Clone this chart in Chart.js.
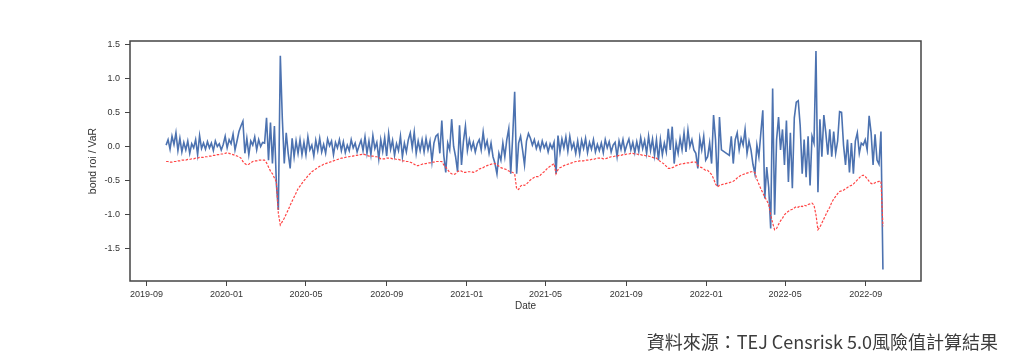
<!DOCTYPE html>
<html>
<head>
<meta charset="utf-8">
<script src="https://cdn.jsdelivr.net/npm/chart.js@4.4.1/dist/chart.umd.min.js"></script>
<style>
  html, body { margin: 0; padding: 0; background: #fff; }
  #wrap { position: relative; width: 1024px; height: 363px; }
  #source {
    position: absolute; right: 26px; top: 328px;
    font-family: "Noto Sans CJK TC", sans-serif; font-size: 18px;
    color: #3c3c3c; white-space: nowrap; line-height: 26px;
  }
</style>
</head>
<body>
<div id="wrap">
  <canvas id="chart" width="1024" height="363"></canvas>
  <div id="source">資料來源：TEJ Censrisk 5.0風險值計算結果</div>
</div>
<script>
// sampling grid of the series (every 3 calendar days from the first date)
const startDate = '2019-10-01';
const stepDays = 3;

const monthTicks = ['2019-09', '2020-01', '2020-05', '2020-09', '2021-01',
                    '2021-05', '2021-09', '2022-01', '2022-05', '2022-09'];
const yTicks = [-1.5, -1.0, -0.5, 0.0, 0.5, 1.0, 1.5];

// bond roi, one row ~ one month (null = holiday gap)
const bondRoi = [
  0.02, 0.10, -0.04, 0.15, 0.03, 0.20, -0.06, 0.12, -0.08, 0.06,
  -0.05, 0.08, -0.10, 0.04, -0.02, 0.10, -0.12, 0.16, -0.03, 0.05,
  -0.04, 0.07, -0.02, 0.05, -0.06, 0.08, 0.00, 0.04, -0.05, 0.03,
  0.15, -0.02, 0.10, 0.04, 0.18, -0.05, 0.08, 0.22, 0.30, 0.37,
  -0.10, 0.12, -0.12, 0.08, 0.02, 0.14, -0.05, 0.10, 0.00, 0.06,
  0.05, 0.42, -0.20, 0.35, -0.25, 0.30, -0.55, -0.93, 1.33, 0.42,
  -0.25, 0.20, -0.10, -0.32, 0.12, -0.15, 0.08, -0.10, 0.10, -0.12,
  0.06, -0.12, 0.14, -0.05, 0.02, -0.14, 0.09, -0.06, 0.12, -0.08,
  0.03, -0.10, 0.11, 0.01, 0.08, -0.12, 0.06, -0.02, 0.10, -0.06,
  0.07, -0.09, 0.02, -0.06, 0.10, -0.02, 0.05, -0.08, 0.01, 0.09,
  -0.06, 0.14, -0.10, 0.08, -0.12, 0.16, -0.03, 0.06, -0.18, 0.10,
  -0.07, 0.13, -0.14, 0.19, -0.04, 0.09, -0.13, 0.04, -0.06, 0.15,
  -0.15, 0.05, -0.08, 0.10, 0.20, -0.02, 0.21, -0.10, 0.08, -0.06,
  0.10, -0.08, 0.12, -0.05, 0.08, -0.22, 0.05, 0.15, 0.18, -0.10,
  0.38, -0.13, -0.38, 0.05, -0.05, 0.40, 0.00, -0.15, -0.37, 0.31,
  -0.27, 0.08, 0.30, -0.06, 0.10, -0.04, 0.06, -0.08, 0.04, 0.10,
  -0.05, 0.21, -0.02, 0.08, -0.10, 0.05, -0.15, -0.25, -0.40, -0.10,
  -0.20, 0.05, -0.15, 0.10, 0.26, -0.40, 0.15, 0.80, -0.40, 0.05,
  0.15, -0.05, -0.27, 0.08, 0.19, 0.12, 0.02, 0.10, -0.03, 0.06,
  -0.05, 0.08, -0.02, 0.05, -0.08, 0.04, -0.03, 0.06, -0.40, 0.16,
  -0.08, 0.11, -0.02, 0.14, -0.07, 0.15, -0.03, 0.05, -0.10, 0.08,
  -0.11, 0.09, -0.03, 0.12, -0.09, 0.06, -0.04, 0.10, -0.08, 0.03,
  -0.06, 0.05, -0.09, 0.10, -0.02, 0.07, -0.08, 0.02, 0.06, -0.15,
  0.08, -0.04, 0.10, -0.07, 0.03, 0.11, -0.05, 0.06, -0.09, 0.07,
  -0.07, 0.13, -0.03, 0.09, -0.10, 0.15, -0.06, 0.11, -0.13, 0.10,
  -0.20, 0.10, -0.12, 0.05, -0.08, 0.26, -0.05, 0.29, -0.25, 0.05,
  -0.10, 0.12, -0.05, 0.20, -0.08, 0.24, 0.00, 0.10, -0.05, -0.10,
  -0.32, 0.12, -0.05, 0.15, -0.20, -0.15, 0.05, -0.25, 0.46, 0.10,
  -0.58, 0.43, -0.05, null, null, null, -0.13, 0.15, -0.25, 0.10,
  0.20, -0.05, 0.12, 0.02, 0.25, -0.10, 0.08, -0.05, -0.26, -0.40,
  0.02, -0.15, 0.20, 0.53, -0.76, -0.30, -0.60, -1.20, 0.85, -1.00,
  0.10, 0.43, -0.05, 0.25, -0.27, 0.38, -0.52, 0.20, -0.61, 0.42,
  0.65, 0.67, 0.30, -0.40, 0.10, -0.45, 0.15, -0.57, 0.15, 0.05,
  1.40, -0.67, 0.40, -0.15, 0.46, 0.20, -0.12, 0.25, -0.15, 0.22,
  -0.10, 0.08, 0.51, 0.50, 0.02, -0.27, 0.10, -0.38, 0.05, -0.40,
  0.08, 0.20, -0.10, 0.05, 0.02, 0.10, -0.05, 0.45, 0.20, -0.27,
  0.18, -0.20, -0.26, 0.22, -1.80
];

// VaR
const varLine = [
  -0.22, -0.22, -0.23, -0.23, -0.22, -0.22, -0.21, -0.21, -0.20, -0.20,
  -0.20, -0.19, -0.19, -0.18, -0.18, -0.17, -0.17, -0.16, -0.16, -0.16,
  -0.15, -0.15, -0.14, -0.14, -0.13, -0.13, -0.12, -0.12, -0.11, -0.11,
  -0.10, -0.09, -0.10, -0.11, -0.12, -0.13, -0.14, -0.15, -0.17, -0.22,
  -0.25, -0.27, -0.26, -0.24, -0.22, -0.21, -0.21, -0.20, -0.20, -0.20,
  -0.20, -0.24, -0.30, -0.36, -0.40, -0.46, -0.52, -0.98, -1.15, -1.10,
  -1.05, -0.99, -0.93, -0.86, -0.80, -0.74, -0.68, -0.62, -0.58, -0.54,
  -0.50, -0.47, -0.43, -0.40, -0.37, -0.35, -0.33, -0.31, -0.29, -0.28,
  -0.26, -0.25, -0.24, -0.23, -0.22, -0.21, -0.20, -0.19, -0.18, -0.17,
  -0.17, -0.16, -0.15, -0.15, -0.14, -0.14, -0.13, -0.13, -0.12, -0.12,
  -0.11, -0.12, -0.13, -0.14, -0.14, -0.14, -0.15, -0.15, -0.16, -0.18,
  -0.18, -0.18, -0.17, -0.17, -0.17, -0.18, -0.18, -0.19, -0.19, -0.20,
  -0.21, -0.21, -0.22, -0.22, -0.23, -0.24, -0.26, -0.28, -0.28, -0.27,
  -0.26, -0.25, -0.25, -0.24, -0.24, -0.23, -0.23, -0.22, -0.22, -0.22,
  -0.22, -0.27, -0.30, -0.34, -0.38, -0.40, -0.41, -0.40, -0.37, -0.35,
  -0.36, -0.38, -0.38, -0.37, -0.37, -0.37, -0.38, -0.37, -0.35, -0.33,
  -0.32, -0.31, -0.29, -0.28, -0.27, -0.26, -0.25, -0.25, -0.27, -0.29,
  -0.31, -0.32, -0.33, -0.34, -0.36, -0.37, -0.38, -0.40, -0.62, -0.63,
  -0.58, -0.56, -0.57, -0.55, -0.52, -0.49, -0.47, -0.45, -0.44, -0.44,
  -0.42, -0.39, -0.37, -0.34, -0.31, -0.29, -0.27, -0.25, -0.40, -0.34,
  -0.31, -0.30, -0.28, -0.27, -0.26, -0.25, -0.24, -0.23, -0.22, -0.22,
  -0.21, -0.21, -0.21, -0.20, -0.20, -0.20, -0.19, -0.19, -0.18, -0.17,
  -0.17, -0.17, -0.18, -0.18, -0.17, -0.16, -0.15, -0.15, -0.14, -0.14,
  -0.13, -0.13, -0.12, -0.12, -0.11, -0.11, -0.10, -0.10, -0.11, -0.11,
  -0.12, -0.12, -0.13, -0.13, -0.14, -0.14, -0.15, -0.16, -0.17, -0.17,
  -0.20, -0.22, -0.24, -0.26, -0.29, -0.32, -0.32, -0.31, -0.30, -0.28,
  -0.27, -0.26, -0.25, -0.25, -0.24, -0.24, -0.24, -0.23, -0.23, -0.23,
  -0.28, -0.30, -0.31, -0.33, -0.35, -0.35, -0.38, -0.41, -0.47, -0.55,
  -0.59, -0.57, -0.56, null, null, null, -0.53, -0.52, -0.51, -0.49,
  -0.46, -0.44, -0.42, -0.41, -0.40, -0.39, -0.38, -0.37, -0.37, -0.38,
  -0.48, -0.55, -0.62, -0.68, -0.74, -0.79, -0.85, -1.00, -1.12, -1.22,
  -1.20, -1.14, -1.09, -1.05, -1.00, -0.97, -0.95, -0.93, -0.92, -0.90,
  -0.88, -0.89, -0.87, -0.88, -0.86, -0.87, -0.85, -0.84, -0.83, -0.86,
  -1.00, -1.22, -1.18, -1.12, -1.06, -1.00, -0.94, -0.89, -0.82, -0.77,
  -0.73, -0.69, -0.66, -0.65, -0.64, -0.62, -0.60, -0.58, -0.57, -0.55,
  -0.52, -0.49, -0.46, -0.43, -0.42, -0.44, -0.47, -0.51, -0.54, -0.55,
  -0.53, -0.52, -0.51, -0.51, -1.17
];

function dayNum(s) {
  var p = s.split('-').map(Number);
  return Date.UTC(p[0], p[1] - 1, p[2] || 1) / 86400000;
}
var day0 = dayNum(startDate);
function toPoints(arr) {
  return arr.map(function (v, i) { return { x: day0 + stepDays * i, y: v }; });
}

var textColor = '#333';
var tickFont = { family: 'Liberation Sans, Arial, sans-serif', size: 9 };

// box round the plot area
const framePlugin = {
  id: 'frame',
  afterDatasetsDraw(chart) {
    var a = chart.chartArea, ctx = chart.ctx;
    ctx.save();
    ctx.strokeStyle = '#444';
    ctx.lineWidth = 1.5;
    ctx.strokeRect(a.left, a.top, a.right - a.left, a.bottom - a.top);
    ctx.restore();
  }
};

new Chart(document.getElementById('chart'), {
  type: 'line',
  data: {
    datasets: [
      {
        label: 'bond roi',
        data: toPoints(bondRoi),
        borderColor: '#4c72b0',
        borderWidth: 1.6,
        pointRadius: 0,
        spanGaps: true,
        order: 2
      },
      {
        label: 'VaR',
        data: toPoints(varLine),
        borderColor: '#ff4545',
        borderWidth: 1.2,
        borderDash: [2.5, 1.5],
        pointRadius: 0,
        spanGaps: true,
        order: 1
      }
    ]
  },
  options: {
    responsive: false,
    animation: false,
    layout: { padding: { left: 84, right: 103, top: 41, bottom: 42 } },
    plugins: { legend: { display: false }, tooltip: { enabled: false } },
    scales: {
      x: {
        type: 'linear',
        min: dayNum('2019-08-07'),
        max: dayNum('2022-11-24'),
        afterBuildTicks: function (scale) {
          scale.ticks = monthTicks.map(function (m) { return { value: dayNum(m) }; });
        },
        afterFit: function (scale) { scale.height = 40; },
        grid: { drawOnChartArea: false, tickLength: 5, color: '#444' },
        border: { display: false },
        ticks: {
          autoSkip: false, maxRotation: 0, padding: 3,
          color: textColor, font: tickFont,
          callback: function (v) {
            return new Date(v * 86400000).toISOString().slice(0, 7);
          }
        },
        title: {
          display: true, text: 'Date', color: textColor,
          font: { family: 'Liberation Sans, Arial, sans-serif', size: 10 },
          padding: { top: 9, bottom: 9 }
        }
      },
      y: {
        min: -1.97,
        max: 1.545,
        afterBuildTicks: function (scale) {
          scale.ticks = yTicks.map(function (v) { return { value: v }; });
        },
        afterFit: function (scale) { scale.width = 46; },
        grid: { drawOnChartArea: false, tickLength: 5, color: '#444' },
        border: { display: false },
        ticks: {
          padding: 5, color: textColor, font: tickFont,
          callback: function (v) { return v.toFixed(1); }
        },
        title: {
          display: true, text: 'bond roi / VaR', color: textColor,
          font: { family: 'Liberation Sans, Arial, sans-serif', size: 10.5 },
          padding: { top: 3, bottom: 3 }
        }
      }
    }
  },
  plugins: [framePlugin]
});
</script>
</body>
</html>
